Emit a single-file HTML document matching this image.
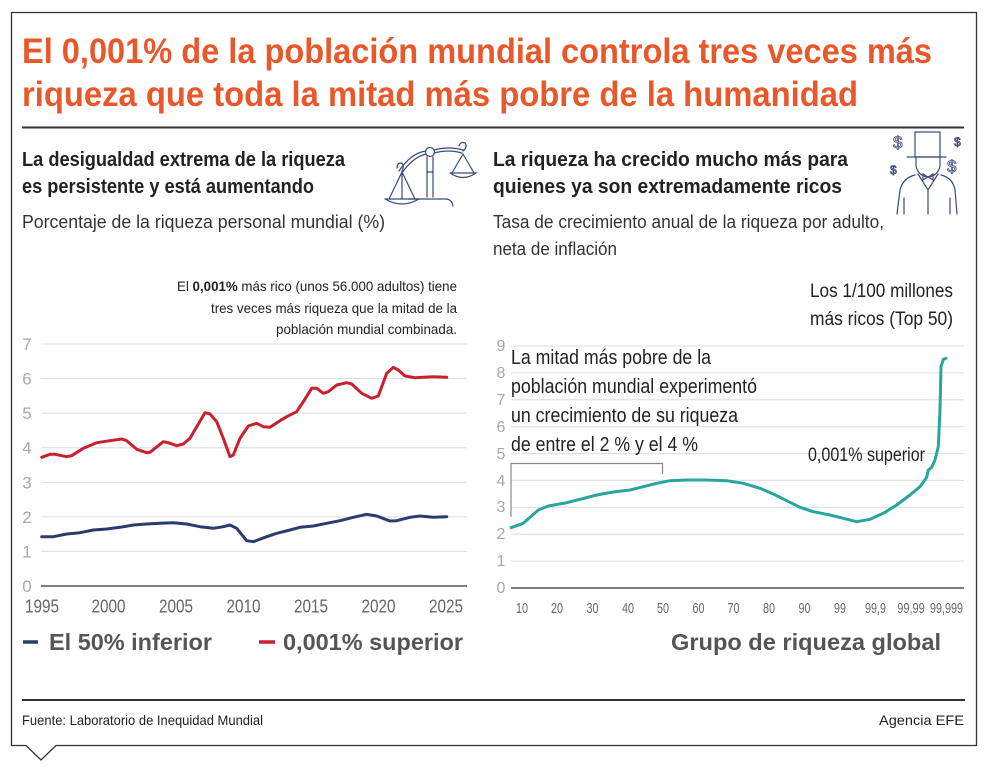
<!DOCTYPE html>
<html>
<head>
<meta charset="utf-8">
<style>
html,body{margin:0;padding:0;background:#fff;}
svg{display:block;}
text{font-family:"Liberation Sans Narrow","Liberation Sans",Arial,sans-serif;}
.b{font-family:"Liberation Sans",Arial,sans-serif;font-weight:bold;}
</style>
</head>
<body>
<svg width="986" height="768" viewBox="0 0 986 768" xmlns="http://www.w3.org/2000/svg">
  <rect width="986" height="768" fill="#fff"/>
  <!-- frame with pointer -->
  <path d="M26 745.5 L11.5 745.5 L11.5 12.5 L976.5 12.5 L976.5 745.5 L56 745.5 L41 760 L26 745.5" fill="#fff" stroke="#333" stroke-width="1.3"/>

  <!-- title -->
  <text x="22" y="63" font-size="35" font-weight="bold" fill="#e8582b" textLength="910" lengthAdjust="spacingAndGlyphs">El 0,001% de la población mundial controla tres veces más</text>
  <text x="22" y="106" font-size="35" font-weight="bold" fill="#e8582b" textLength="836" lengthAdjust="spacingAndGlyphs">riqueza que toda la mitad más pobre de la humanidad</text>
  <line x1="22" y1="127.5" x2="964" y2="127.5" stroke="#333" stroke-width="2"/>

  <!-- left subtitles -->
  <text x="22" y="166" font-size="20" font-weight="bold" fill="#222" textLength="323" lengthAdjust="spacingAndGlyphs">La desigualdad extrema de la riqueza</text>
  <text x="22" y="193" font-size="20" font-weight="bold" fill="#222" textLength="292" lengthAdjust="spacingAndGlyphs">es persistente y está aumentando</text>
  <text x="22" y="228" font-size="18" fill="#333" textLength="363" lengthAdjust="spacingAndGlyphs">Porcentaje de la riqueza personal mundial (%)</text>

  <!-- right subtitles -->
  <text x="493" y="166" font-size="20" font-weight="bold" fill="#222" textLength="355" lengthAdjust="spacingAndGlyphs">La riqueza ha crecido mucho más para</text>
  <text x="493" y="193" font-size="20" font-weight="bold" fill="#222" textLength="349" lengthAdjust="spacingAndGlyphs">quienes ya son extremadamente ricos</text>
  <text x="493" y="228" font-size="18" fill="#333" textLength="391" lengthAdjust="spacingAndGlyphs">Tasa de crecimiento anual de la riqueza por adulto,</text>
  <text x="493" y="255" font-size="18" fill="#333" textLength="124" lengthAdjust="spacingAndGlyphs">neta de inflación</text>

  <!-- scales icon -->
  <g fill="none" stroke="#3a4a7c" stroke-width="1.2" stroke-linecap="round">
    <path d="M399 171 Q411 153 426 151"/>
    <path d="M401 174 Q413 157 426 154"/>
    <path d="M434 150 Q449 146 463 150"/>
    <path d="M434 153 Q449 149 462 153"/>
    <circle cx="430" cy="152" r="4.5"/>
    <path d="M427 157 L427 197 M433 157 L433 197 M427 172 L433 172"/>
    <path d="M409 199 L447 199 Q452 200 453 206"/>
    <path d="M397 168 Q397 163 401 163 Q405 164 402 171"/>
    <path d="M402 172 L389 199 M402 172 L415 199 M402 172 L402 199"/>
    <path d="M385 199 L419 199 Q402 209 385 199"/>
    <path d="M459 146 Q461 141 465 143 Q468 147 463 151"/>
    <path d="M463 154 L452 173 M463 154 L474 173"/>
    <path d="M450 173 L476 173 Q463 182 450 173"/>
  </g>

  <!-- wealthy man icon -->
  <g fill="none" stroke="#3a4a7c" stroke-width="1.2" stroke-linecap="round">
    <rect x="915" y="132" width="25" height="25"/>
    <line x1="907" y1="157" x2="946" y2="157"/>
    <path d="M916 158 L916 166 Q918 176 928 177 Q938 176 940 166 L940 158"/>
    <path d="M923 174 L928 177 L923 180 Z M933 174 L928 177 L933 180 Z"/>
    <path d="M918 174 L928 190 L938 174"/>
    <path d="M915 175 Q903 178 900 190 L897 214"/>
    <path d="M941 175 Q953 178 955 190 L957 214"/>
    <path d="M904 198 L904 214 M950 198 L950 214 M928 190 L928 214"/>
  </g>
  <g font-family="Liberation Sans,Arial,sans-serif" fill="#fff" stroke="#3a4a7c" stroke-width="0.8">
    <text x="893" y="148" font-size="17">$</text>
    <text x="954" y="146" font-size="12">$</text>
    <text x="890" y="174" font-size="12">$</text>
    <text x="947" y="172" font-size="17">$</text>
  </g>

  <!-- ===== LEFT CHART ===== -->
  <g stroke="#dcdcdc" stroke-width="1">
    <line x1="41" y1="344" x2="467" y2="344"/>
    <line x1="41" y1="378.6" x2="467" y2="378.6"/>
    <line x1="41" y1="413.1" x2="467" y2="413.1"/>
    <line x1="41" y1="447.7" x2="467" y2="447.7"/>
    <line x1="41" y1="482.3" x2="467" y2="482.3"/>
    <line x1="41" y1="516.9" x2="467" y2="516.9"/>
    <line x1="41" y1="551.4" x2="467" y2="551.4"/>
  </g>
  <line x1="41" y1="586" x2="467" y2="586" stroke="#555" stroke-width="1.5"/>
  <g font-size="17" fill="#a8a8a8" text-anchor="middle">
    <text x="27" y="350">7</text>
    <text x="27" y="384.6">6</text>
    <text x="27" y="419.1">5</text>
    <text x="27" y="453.7">4</text>
    <text x="27" y="488.3">3</text>
    <text x="27" y="522.9">2</text>
    <text x="27" y="557.4">1</text>
    <text x="27" y="592">0</text>
  </g>
  <g font-size="18" fill="#666" text-anchor="middle">
    <text x="42" y="612.5" textLength="34" lengthAdjust="spacingAndGlyphs">1995</text>
    <text x="108.5" y="612.5" textLength="34" lengthAdjust="spacingAndGlyphs">2000</text>
    <text x="176" y="612.5" textLength="34" lengthAdjust="spacingAndGlyphs">2005</text>
    <text x="243.5" y="612.5" textLength="34" lengthAdjust="spacingAndGlyphs">2010</text>
    <text x="311" y="612.5" textLength="34" lengthAdjust="spacingAndGlyphs">2015</text>
    <text x="378.5" y="612.5" textLength="34" lengthAdjust="spacingAndGlyphs">2020</text>
    <text x="446" y="612.5" textLength="34" lengthAdjust="spacingAndGlyphs">2025</text>
  </g>

  <!-- annotation -->
  <g font-size="14" fill="#222" text-anchor="end">
    <text x="457" y="291" textLength="280" lengthAdjust="spacingAndGlyphs">El <tspan font-weight="bold">0,001%</tspan> más rico (unos 56.000 adultos) tiene</text>
    <text x="457" y="313" textLength="246" lengthAdjust="spacingAndGlyphs">tres veces más riqueza que la mitad de la</text>
    <text x="457" y="334" textLength="181" lengthAdjust="spacingAndGlyphs">población mundial combinada.</text>
  </g>

  <!-- red series -->
  <polyline fill="none" stroke="#c8202f" stroke-width="3" stroke-linejoin="round" stroke-linecap="round"
    points="41.7,457.3 50,454.3 55,454.3 66.7,456.7 71.7,455.7 83.3,448.3 96.7,442.7 110,440.7 121.7,439 126.7,440.7 136.7,449.3 146.7,452.7 150,452.3 163.3,441.7 168.3,442.7 176.7,445.7 183.3,444 190,438.3 196.7,426.7 205,412.7 210,414 216.7,421.7 223.3,438.3 230,456.7 233.3,455 240,438.3 248.3,426 256.7,423.3 263.3,426.7 270,427.3 280,420.7 286.7,416.7 296.7,411.7 303.3,401.7 311.7,388.3 316.7,388.3 323.3,393.3 328.3,391.7 336.7,385 346.7,382.7 351.7,384 361.7,393.3 371.7,398.3 378.3,396 386.7,373.3 393.3,367.3 398.3,370 405,376 415,377.7 423.3,377.3 433.3,376.7 446.7,377.3"/>
  <!-- blue series -->
  <polyline fill="none" stroke="#2b3c6e" stroke-width="3" stroke-linejoin="round" stroke-linecap="round"
    points="41.7,536.7 53.3,536.7 66.7,534 80,532.7 93.3,530 106.7,529 120,527.3 133.3,525 146.7,524 160,523.3 173.3,522.7 186.7,524 200,526.7 213.3,528.3 223.3,526.7 230,525 236.7,528.3 246.7,540.7 253.3,541.7 266.7,536.7 276.7,533.3 290,530 300,527.3 313.3,526 326.7,523.3 340,520.7 353.3,517.3 366.7,514.3 376.7,516 390,521 396.7,520.7 410,517.3 420,516 433.3,517.3 446.7,516.7"/>

  <!-- legend -->
  <line x1="23" y1="642" x2="38" y2="642" stroke="#2b3c6e" stroke-width="3.5"/>
  <text x="49" y="650" class="b" font-size="23" fill="#555" textLength="163" lengthAdjust="spacingAndGlyphs">El 50% inferior</text>
  <line x1="259" y1="642" x2="275" y2="642" stroke="#c8202f" stroke-width="3.5"/>
  <text x="283" y="650" class="b" font-size="23" fill="#555" textLength="180" lengthAdjust="spacingAndGlyphs">0,001% superior</text>

  <!-- ===== RIGHT CHART ===== -->
  <g stroke="#dcdcdc" stroke-width="1">
    <line x1="511" y1="346" x2="964" y2="346"/>
    <line x1="511" y1="372.9" x2="964" y2="372.9"/>
    <line x1="511" y1="399.8" x2="964" y2="399.8"/>
    <line x1="511" y1="426.7" x2="964" y2="426.7"/>
    <line x1="511" y1="453.6" x2="964" y2="453.6"/>
    <line x1="511" y1="480.4" x2="964" y2="480.4"/>
    <line x1="511" y1="507.3" x2="964" y2="507.3"/>
    <line x1="511" y1="534.2" x2="964" y2="534.2"/>
    <line x1="511" y1="561.1" x2="964" y2="561.1"/>
  </g>
  <line x1="511" y1="588" x2="964" y2="588" stroke="#555" stroke-width="1.5"/>
  <g font-size="16" fill="#a8a8a8" text-anchor="middle">
    <text x="501" y="351">9</text>
    <text x="501" y="378">8</text>
    <text x="501" y="405">7</text>
    <text x="501" y="432">6</text>
    <text x="501" y="459">5</text>
    <text x="501" y="486">4</text>
    <text x="501" y="512">3</text>
    <text x="501" y="539">2</text>
    <text x="501" y="566">1</text>
    <text x="501" y="593">0</text>
  </g>
  <g font-size="15" fill="#666" text-anchor="middle">
    <text x="522" y="613" textLength="12" lengthAdjust="spacingAndGlyphs">10</text>
    <text x="557" y="613" textLength="12" lengthAdjust="spacingAndGlyphs">20</text>
    <text x="592.5" y="613" textLength="12" lengthAdjust="spacingAndGlyphs">30</text>
    <text x="628" y="613" textLength="12" lengthAdjust="spacingAndGlyphs">40</text>
    <text x="663" y="613" textLength="12" lengthAdjust="spacingAndGlyphs">50</text>
    <text x="698.5" y="613" textLength="12" lengthAdjust="spacingAndGlyphs">60</text>
    <text x="733.5" y="613" textLength="12" lengthAdjust="spacingAndGlyphs">70</text>
    <text x="769" y="613" textLength="12" lengthAdjust="spacingAndGlyphs">80</text>
    <text x="804.5" y="613" textLength="12" lengthAdjust="spacingAndGlyphs">90</text>
    <text x="840" y="613" textLength="12" lengthAdjust="spacingAndGlyphs">99</text>
    <text x="875.5" y="613" textLength="21" lengthAdjust="spacingAndGlyphs">99,9</text>
    <text x="911" y="613" textLength="27.5" lengthAdjust="spacingAndGlyphs">99,99</text>
    <text x="946.5" y="613" textLength="33" lengthAdjust="spacingAndGlyphs">99,999</text>
  </g>
  <text x="671" y="650" class="b" font-size="23" fill="#555" textLength="270" lengthAdjust="spacingAndGlyphs">Grupo de riqueza global</text>

  <!-- right annotations -->
  <g font-size="20" fill="#222">
    <text x="511" y="364" textLength="200" lengthAdjust="spacingAndGlyphs">La mitad más pobre de la</text>
    <text x="511" y="393" textLength="246" lengthAdjust="spacingAndGlyphs">población mundial experimentó</text>
    <text x="511" y="422" textLength="227" lengthAdjust="spacingAndGlyphs">un crecimiento de su riqueza</text>
    <text x="511" y="451" textLength="187" lengthAdjust="spacingAndGlyphs">de entre el 2 % y el 4 %</text>
  </g>
  <path d="M511 517 L511 463.5 L662.5 463.5 L662.5 474" fill="none" stroke="#888" stroke-width="1.2"/>
  <text x="808" y="461" font-size="19" fill="#222" textLength="117" lengthAdjust="spacingAndGlyphs">0,001% superior</text>
  <text x="810" y="297" font-size="19" fill="#222" textLength="143" lengthAdjust="spacingAndGlyphs">Los 1/100 millones</text>
  <text x="810" y="325" font-size="19" fill="#222" textLength="143" lengthAdjust="spacingAndGlyphs">más ricos (Top 50)</text>

  <!-- teal series -->
  <polyline fill="none" stroke="#27a79c" stroke-width="3" stroke-linejoin="round" stroke-linecap="round"
    points="511,527.7 523.3,523.3 538.3,510 548.3,506 566.7,502.7 580,499.3 596.7,495 613.3,492 630,490 643.3,486.7 656.7,483.3 670,480.7 686.7,480 706.7,480 726.7,480.7 743.3,483.3 760,488.3 773.3,494 786.7,500.7 800,507.3 813.3,511.7 830,515 843.3,518.3 856.7,521.7 870,519.3 883.3,513.3 896.7,505 910,495 920,486.7 926.7,477.3 928.3,470 931.7,467.3 935,460 938.3,446.7 940,410 941,366.7 943.3,359.3 946,358.3"/>

  <!-- footer -->
  <line x1="22" y1="700" x2="965" y2="700" stroke="#333" stroke-width="2"/>
  <text x="22" y="725" font-size="14" fill="#222" textLength="241" lengthAdjust="spacingAndGlyphs">Fuente: Laboratorio de Inequidad Mundial</text>
  <text x="964" y="725" font-size="14" fill="#222" text-anchor="end" textLength="85" lengthAdjust="spacingAndGlyphs">Agencia EFE</text>
</svg>
</body>
</html>
